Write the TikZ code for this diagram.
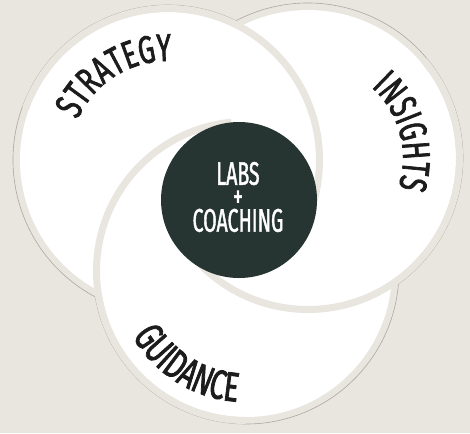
\documentclass[tikz,border=0pt]{standalone}
\usepackage{fontspec}
\usetikzlibrary{decorations.text}
\newfontfamily\arcfont[FakeStretch=0.68,FakeBold=1.8]{Fira Sans}
\newfontfamily\corefont[FakeStretch=0.6,FakeBold=1.2]{Fira Sans}
\definecolor{sand}{RGB}{233,229,223}
\definecolor{rim}{RGB}{172,167,161}
\definecolor{pine}{RGB}{38,52,50}
\definecolor{ink}{RGB}{28,28,28}
\tikzset{every picture/.style={line width=0.75pt}}
\tikzset{
	disc/.style={fill=white},
	band/.style={draw=sand, line width=5.25pt},
	edge/.style={draw=rim, line width=0.45pt},
	arclabel/.style={decorate, decoration={text along path, text align=center, text color=ink}},
}

\begin{document}
\begin{tikzpicture}[x=0.75pt,y=0.75pt,yscale=-1,xscale=1]
	\useasboundingbox (0,0) rectangle (470,433);
	\fill[sand] (0,0) rectangle (470,433);

	\coordinate (strat) at (168,160);
	\coordinate (insig) at (308,158);
	\coordinate (guid) at (246,271);

	%Shape: Circle
	\fill[disc] (strat) circle (148);
	%Shape: Circle
	\fill[disc] (insig) circle (148);
	%Shape: Circle
	\fill[disc] (guid) circle (146);

	%Shape: Arc
	\draw[edge] (strat) ++(118:155) arc[start angle=118, end angle=296, radius=155];
	%Shape: Arc
	\draw[edge] (insig) ++(242.3:155) arc[start angle=242.3, end angle=414.3, radius=155];
	%Shape: Arc
	\draw[edge] (guid) ++(4.84:153) arc[start angle=4.84, end angle=170.3, radius=153];

	%Shape: Arc
	\draw[band] (strat) ++(200:151.5) arc[start angle=200, end angle=389.4, radius=151.5];
	%Shape: Arc
	\draw[band] (insig) ++(320:151.5) arc[start angle=320, end angle=508.7, radius=151.5];
	%Shape: Arc
	\draw[band] (guid) ++(90:149.5) arc[start angle=90, end angle=264.4, radius=149.5];

	%Shape: Circle
	\node[circle, fill=pine, minimum size=117pt, inner sep=0pt] (core) at (239,200) {};

	% Text Node
	\node[text=white, align=center, font=\corefont\fontsize{24.5}{17}\selectfont] (coretext) at (238,197) {LABS\\+\\COACHING};

	% Text Node
	\path[arclabel, decoration={text={|\arcfont\fontsize{29}{29}\selectfont|STRATEGY}}] (strat) ++(188:99) arc[start angle=188, end angle=288, radius=99];
	% Text Node
	\path[arclabel, decoration={text={|\arcfont\fontsize{29}{29}\selectfont|INSIGHTS}}] (insig) ++(295:95) arc[start angle=295, end angle=395, radius=95];
	% Text Node
	\path[arclabel, decoration={text={|\arcfont\fontsize{31}{31}\selectfont|GUIDANCE}}] (guid) ++(174:131) arc[start angle=174, end angle=70, radius=131];

\end{tikzpicture}
\end{document}
